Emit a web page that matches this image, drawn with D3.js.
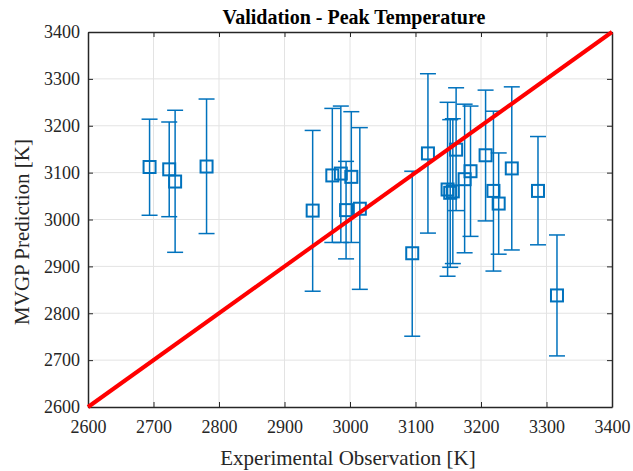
<!DOCTYPE html>
<html lang="en">
<head>
<meta charset="utf-8">
<script src="https://cdn.jsdelivr.net/npm/d3@7"></script>
<style>
    body { margin: 0; background: #fff; }
</style>
</head>
<body>
<script>
// experimental observation, predicted mean, upper and lower error bounds [K]
const observed = [2694, 2724, 2733, 2781, 2943, 2973, 2986, 2994, 3002, 3015,
                  3095, 3119, 3149, 3153, 3157, 3162, 3175, 3184, 3207, 3219,
                  3227, 3247, 3287, 3316];
const predicted = [3112, 3107, 3081, 3113, 3019, 3094, 3098, 3020, 3091, 3023,
                   2928, 3141, 3064, 3057, 3060, 3149, 3086, 3103, 3137, 3061,
                   3034, 3109, 3061, 2838];
const upper = [3214, 3208, 3233, 3257, 3190, 3237, 3242, 3124, 3230, 3196,
               3103, 3311, 3250, 3213, 3215, 3281, 3246, 3242, 3276, 3231,
               3142, 3283, 3177, 2967];
const lower = [3009, 3006, 2930, 2970, 2847, 2951, 2951, 2916, 2951, 2851,
               2751, 2971, 2879, 2898, 2906, 3019, 2929, 2964, 2997, 2890,
               2926, 2935, 2946, 2709];
const ticks = [2600, 2700, 2800, 2900, 3000, 3100, 3200, 3300, 3400];

const w = 633, h = 471;
const m = {left: 88, right: 21, top: 32, bottom: 64};
const serif = "Liberation Serif, DejaVu Serif, serif";

const svg = d3.select("body").append("svg")
    .attr("width", w).attr("height", h);

const x = d3.scaleLinear().domain([2600, 3400]).range([m.left, w - m.right]);
const y = d3.scaleLinear().domain([2600, 3400]).range([h - m.bottom, m.top]);

const blue = "#0072BD";
const grey = "#262626";

// grid
svg.append("g").selectAll("line").data(ticks.slice(1, -1)).enter().append("line")
    .attr("x1", d => x(d)).attr("x2", d => x(d))
    .attr("y1", y(2600)).attr("y2", y(3400))
    .attr("stroke", "#e3e3e3").attr("stroke-width", 1);
svg.append("g").selectAll("line").data(ticks.slice(1, -1)).enter().append("line")
    .attr("y1", d => y(d)).attr("y2", d => y(d))
    .attr("x1", x(2600)).attr("x2", x(3400))
    .attr("stroke", "#e3e3e3").attr("stroke-width", 1);

// axes (box with inward ticks on all sides)
const tl = 5;
const style = g => {
    g.attr("font-family", serif).attr("font-size", 18);
    g.select(".domain").attr("stroke", grey).attr("stroke-width", 1.5);
    g.selectAll(".tick line").attr("stroke", grey);
    g.selectAll(".tick text").attr("fill", grey);
};
svg.append("g")
    .attr("transform", "translate(0," + y(2600) + ")")
    .call(d3.axisBottom(x).tickValues(ticks).tickFormat(d3.format("d")).tickSizeInner(-tl).tickSizeOuter(0).tickPadding(13))
    .call(style);
svg.append("g")
    .attr("transform", "translate(0," + y(3400) + ")")
    .call(d3.axisTop(x).tickValues(ticks).tickFormat("").tickSizeInner(-tl).tickSizeOuter(0))
    .call(style);
svg.append("g")
    .attr("transform", "translate(" + x(2600) + ",0)")
    .call(d3.axisLeft(y).tickValues(ticks).tickFormat(d3.format("d")).tickSizeInner(-tl).tickSizeOuter(0).tickPadding(8))
    .call(style);
svg.append("g")
    .attr("transform", "translate(" + x(3400) + ",0)")
    .call(d3.axisRight(y).tickValues(ticks).tickFormat("").tickSizeInner(-tl).tickSizeOuter(0))
    .call(style);

// error bars
const cap = 8;
const bars = svg.append("g").attr("stroke", blue).attr("stroke-width", 1.5);
const idx = d3.range(observed.length);
bars.selectAll(".v").data(idx).enter().append("line")
    .attr("x1", i => x(observed[i])).attr("x2", i => x(observed[i]))
    .attr("y1", i => y(upper[i])).attr("y2", i => y(lower[i]));
bars.selectAll(".u").data(idx).enter().append("line")
    .attr("x1", i => x(observed[i]) - cap).attr("x2", i => x(observed[i]) + cap)
    .attr("y1", i => y(upper[i])).attr("y2", i => y(upper[i]));
bars.selectAll(".l").data(idx).enter().append("line")
    .attr("x1", i => x(observed[i]) - cap).attr("x2", i => x(observed[i]) + cap)
    .attr("y1", i => y(lower[i])).attr("y2", i => y(lower[i]));

// markers
const s = 12;
svg.append("g").selectAll("rect").data(idx).enter().append("rect")
    .attr("x", i => x(observed[i]) - s / 2).attr("y", i => y(predicted[i]) - s / 2)
    .attr("width", s).attr("height", s)
    .attr("fill", "none").attr("stroke", blue).attr("stroke-width", 2);

// parity line
svg.append("line")
    .attr("x1", x(2600)).attr("y1", y(2600))
    .attr("x2", x(3400)).attr("y2", y(3400))
    .attr("stroke", "#ff0000").attr("stroke-width", 4);

// labels
svg.append("text").text("Validation - Peak Temperature")
    .attr("x", 354).attr("y", 24)
    .attr("text-anchor", "middle")
    .attr("font-family", serif).attr("font-weight", "bold")
    .attr("font-size", "20px").attr("fill", "#000");
svg.append("text").text("Experimental Observation [K]")
    .attr("x", 348).attr("y", 465)
    .attr("text-anchor", "middle")
    .attr("font-family", serif)
    .attr("font-size", "21px").attr("fill", grey);
svg.append("text").text("MVGP Prediction [K]")
    .attr("transform", "translate(29,232) rotate(-90)")
    .attr("text-anchor", "middle")
    .attr("font-family", serif)
    .attr("font-size", "21px").attr("fill", grey);
</script>
</body>
</html>
